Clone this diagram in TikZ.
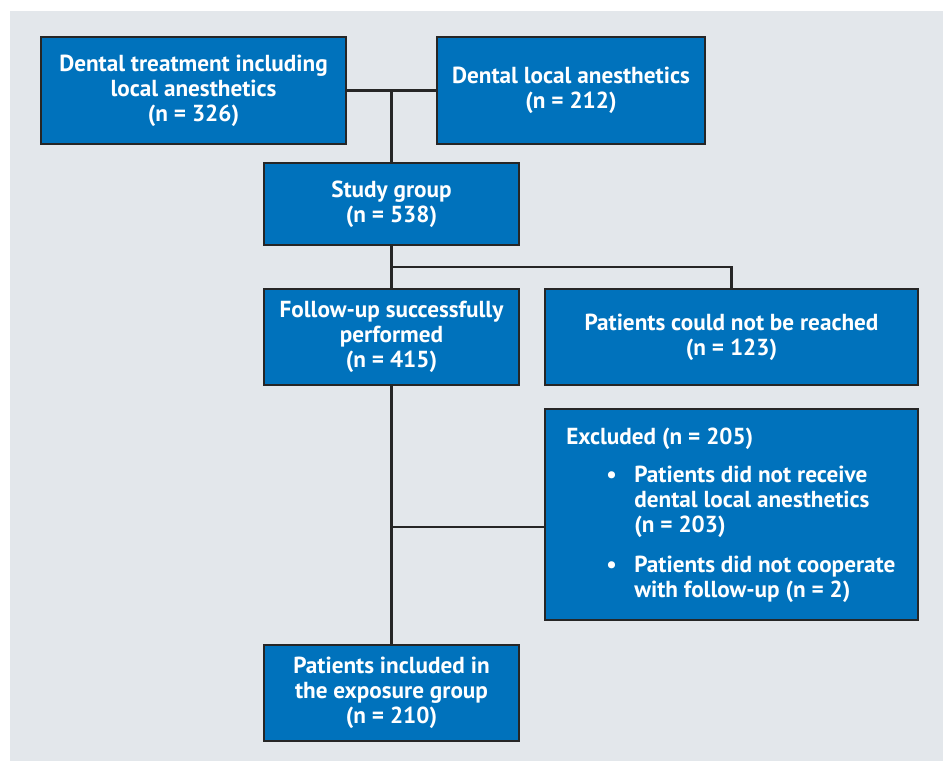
\documentclass[tikz,border=0pt]{standalone}
\usepackage{fontspec}
\setmainfont{PT Sans}
\usepackage{tikz}
\usetikzlibrary{calc}
\definecolor{boxblue}{HTML}{0072BC}
\definecolor{pagegray}{HTML}{E3E7EB}
\definecolor{edgegray}{HTML}{262626}

\begin{document}
\begin{tikzpicture}[
    stage/.style={draw=edgegray, line width=1.4pt, fill=boxblue, text=white,
      font=\fontsize{13.2}{14.2}\selectfont\bfseries, align=center, inner sep=0pt},
    link/.style={-, draw=edgegray, line width=1.2pt}
  ]
  \useasboundingbox (0,0) rectangle (18.86,-15.22);
  \fill[pagegray] (0.2,-0.22) rectangle (18.86,-15.22);

  \node[stage, minimum width=6.1cm, minimum height=2.14cm] (treat) at (3.87,-1.81)
    {Dental treatment including\\local anesthetics\\(n = 326)};
  \node[stage, minimum width=5.36cm, minimum height=2.14cm] (anest) at (11.42,-1.81)
    {Dental local anesthetics\\(n = 212)};
  \node[stage, minimum width=5.1cm, minimum height=1.64cm] (study) at (7.83,-4.08)
    {Study group\\(n = 538)};
  \node[stage, minimum width=5.1cm, minimum height=1.92cm] (follow) at (7.83,-6.74)
    {Follow-up successfully\\performed\\(n = 415)};
  \node[stage, minimum width=7.46cm, minimum height=1.92cm] (reach) at (14.63,-6.74)
    {Patients could not be reached\\(n = 123)};
  \node[stage, minimum width=7.46cm, minimum height=4.22cm] (excl) at (14.63,-10.29) {};
  \node[text=white, font=\fontsize{13.2}{14.2}\selectfont\bfseries, align=left,
    inner sep=0pt, anchor=north west] (excltext) at (11.32,-8.56)
    {Excluded (n = 205)\\[0.26cm]
     \hspace*{0.8cm}\makebox[0.56cm][l]{\textbullet}Patients did not receive\\
     \hspace*{1.36cm}dental local anesthetics\\
     \hspace*{1.36cm}(n = 203)\\[0.3cm]
     \hspace*{0.8cm}\makebox[0.56cm][l]{\textbullet}Patients did not cooperate\\
     \hspace*{1.36cm}with follow-up (n = 2)};
  \node[stage, minimum width=5.1cm, minimum height=1.92cm] (incl) at (7.83,-13.86)
    {Patients included in\\the exposure group\\(n = 210)};

  % joins
  \draw[link] (treat.east) -- (anest.west);
  \draw[link] (treat.east -| study.north) -- (study.north);
  \draw[link] (study.south) -- (follow.north);
  \draw[link] ($(study.south)!0.5!(follow.north)$) -| (reach.north);
  \draw[link] (follow.south) -- (incl.north);
  \coordinate (exclin) at ([yshift=-0.25cm]excl.west);
  \draw[link] (exclin) -- (exclin -| follow.south);
\end{tikzpicture}
\end{document}
